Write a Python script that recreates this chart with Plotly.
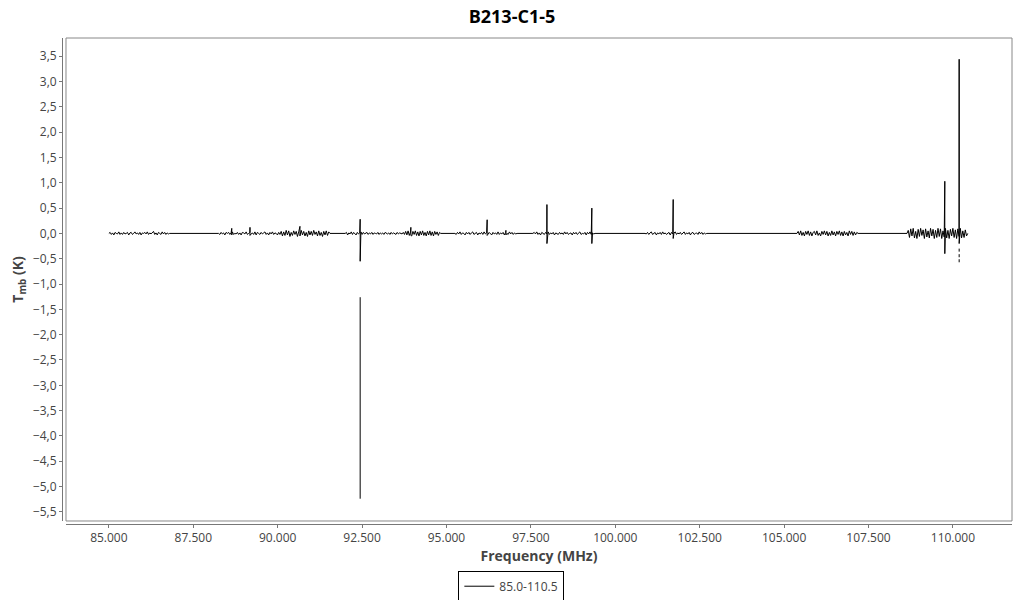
import numpy as np
import plotly.graph_objects as go

# spectral windows (MHz) and baseline noise (K)
win_start = [85000, 88250, 92000, 95250, 97560, 100880, 105380, 108640]
win_end = [86800, 91550, 94830, 97090, 99400, 102710, 107190, 110440]

noise_1 = [0.0, 0.02, -0.02, 0.01, -0.03, 0.02, 0.0, -0.01, 0.03, -0.02, 0.01, -0.02, 0.02, -0.01, 0.0, 0.02, -0.03,
           0.01, 0.02, -0.02, 0.0, 0.03, -0.01, 0.01, -0.02, 0.02, -0.03, 0.01, 0.0, 0.02, -0.01, 0.03, -0.02, 0.01,
           -0.01, 0.02, 0.04, -0.02, 0.01, -0.03, 0.02, 0.0, -0.02, 0.03, -0.01, 0.02, -0.02, 0.01, -0.01, 0.0]
noise_2 = [0.0, -0.02, 0.02, -0.01, 0.01, -0.03, 0.02, 0.0, 0.02, -0.02, 0.01, 0.03, -0.02, 0.0, -0.01, 0.02, -0.02,
           0.01, -0.03, 0.02, 0.01, -0.01, 0.03, -0.02, 0.0, 0.02, -0.01, 0.01, -0.02, 0.03, -0.03, 0.02, 0.0, -0.02,
           0.02, -0.01, 0.01, 0.03, -0.02, 0.01, -0.03, 0.02, -0.01, 0.03, -0.02, 0.01, 0.0, -0.03, 0.02, -0.02,
           0.04, -0.05, 0.03, -0.04, 0.06, -0.03, 0.05, -0.06, 0.02, -0.04, 0.05, -0.02, 0.04, -0.06, 0.03, -0.05,
           0.06, -0.03, 0.04, -0.05, 0.02, -0.06, 0.05, -0.03, 0.04, -0.04, 0.06, -0.02, 0.03, -0.05, 0.05, -0.04,
           0.02, -0.06, 0.04, -0.03, 0.05, -0.04, 0.03, 0.0]
noise_3 = [0.0, 0.02, -0.03, 0.01, -0.01, 0.03, -0.02, 0.02, 0.0, -0.03, 0.02, -0.01, 0.01, 0.03, -0.02, 0.02,
           -0.01, 0.0, 0.02, -0.02, 0.01, -0.01, 0.02, -0.02, 0.01, 0.0, -0.01, 0.02, -0.02, 0.01, -0.01, 0.01,
           -0.02, 0.02, 0.0, -0.01, 0.01, -0.02, 0.02, -0.01, 0.01, 0.0, -0.02, 0.02, -0.01, 0.01, 0.0, -0.01,
           0.02, -0.02, 0.04, -0.03, 0.05, -0.04, 0.03, -0.05, 0.04, -0.02, 0.05, -0.04, 0.03, -0.05, 0.04, -0.03,
           0.05, -0.04, 0.02, -0.05, 0.04, -0.03, 0.05, -0.04, 0.03, -0.05, 0.04, -0.02, 0.03, -0.04, 0.02, 0.0]
noise_4 = [0.0, -0.02, 0.02, -0.01, 0.03, -0.02, 0.01, 0.0, -0.03, 0.02, -0.01, 0.02, -0.02, 0.01, 0.03, -0.02,
           0.0, 0.02, -0.03, 0.01, -0.01, 0.02, -0.02, 0.03, -0.01, 0.01, -0.02, 0.02, 0.0, -0.03, 0.02, -0.01,
           0.01, -0.02, 0.03, -0.02, 0.01, -0.01, 0.02, -0.03, 0.02, 0.0, -0.02, 0.03, -0.01, 0.02, -0.02, 0.01,
           -0.01, 0.0]
noise_5 = [0.0, 0.02, -0.01, 0.03, -0.02, 0.01, -0.03, 0.02, 0.0, -0.02, 0.02, -0.01, 0.03, -0.02, 0.01, -0.01,
           0.02, -0.03, 0.01, 0.0, -0.02, 0.02, -0.01, 0.01, -0.02, 0.03, -0.01, 0.02, -0.02, 0.0, 0.01, -0.03,
           0.02, -0.01, 0.02, -0.02, 0.01, 0.03, -0.02, 0.0, -0.01, 0.02, -0.03, 0.02, -0.01, 0.03, -0.02, 0.01,
           -0.01, 0.0]
noise_6 = [0.0, -0.01, 0.02, -0.02, 0.01, 0.03, -0.02, 0.0, 0.02, -0.03, 0.01, -0.01, 0.02, -0.02, 0.03, -0.01,
           0.01, -0.02, 0.0, 0.02, -0.03, 0.02, -0.01, 0.01, 0.03, -0.02, 0.01, -0.01, 0.02, -0.02, 0.0, 0.03,
           -0.02, 0.01, -0.01, 0.02, -0.03, 0.01, 0.02, -0.02, 0.0, 0.01, -0.02, 0.03, -0.01, 0.02, -0.02, 0.01,
           -0.01, 0.0]
noise_7 = [0.0, 0.04, -0.03, 0.05, -0.04, 0.02, -0.05, 0.04, -0.02, 0.05, -0.04, 0.03, -0.05, 0.02, 0.04,
           -0.03, 0.05, -0.04, 0.01, -0.05, 0.04, -0.02, 0.05, -0.03, 0.04, -0.05, 0.02, -0.04, 0.05, -0.03, 0.03,
           -0.05, 0.04, -0.02, 0.05, -0.04, 0.03, -0.05, 0.04, -0.03, 0.02, -0.05, 0.05, -0.02, 0.04, -0.04, 0.03,
           -0.03, 0.02, 0.0]
noise_8 = [0.0, 0.06, -0.08, 0.09, -0.05, 0.1, -0.09, 0.04, -0.1, 0.08, -0.06, 0.1, -0.04, 0.07, -0.1, 0.09,
           -0.07, 0.05, -0.09, 0.1, -0.05, 0.08, -0.1, 0.06, -0.08, 0.1, -0.06, 0.09, -0.1, 0.05, -0.07, 0.1,
           -0.09, 0.06, -0.1, 0.08, -0.05, 0.1, -0.08, 0.07, -0.1, 0.09, -0.06, 0.1, -0.09, 0.05, -0.08, 0.07,
           -0.05, 0.0]
win_noise = [noise_1, noise_2, noise_3, noise_4, noise_5, noise_6, noise_7, noise_8]

# lines (MHz) with peak and trough (K)
line_freq = [88640, 89180, 90660, 92443, 93945, 96205, 96760, 97975, 99305, 101715, 109760, 110185]
line_top = [0.1, 0.12, 0.14, 0.28, 0.12, 0.27, 0.06, 0.57, 0.5, 0.67, 1.03, 3.44]
line_bottom = [-0.03, -0.04, -0.05, -0.55, -0.04, -0.04, -0.03, -0.2, -0.2, -0.1, -0.4, -0.2]

# detached pieces of the spectrum (blanked channels in between)
piece_freq = [92443, 110185, 110185, 110185]
piece_hi = [-1.26, -0.3, -0.41, -0.51]
piece_lo = [-5.24, -0.36, -0.47, -0.57]

x, y = [], []
for f0, f1, vals in zip(win_start, win_end, win_noise):
    pts = list(zip(np.linspace(f0, f1, len(vals)), vals))
    for f, a, b in zip(line_freq, line_top, line_bottom):
        if f0 <= f <= f1:
            pts += [(f, a), (f, b)]
    pts.sort(key=lambda p: p[0])
    x += [p[0] for p in pts]
    y += [p[1] for p in pts]
for f, a, b in zip(piece_freq, piece_hi, piece_lo):
    x += [None, f, f]
    y += [None, a, b]

fig = go.Figure(go.Scatter(x=x, y=y, mode='lines', name='85.0-110.5',
                           line=dict(color='black', width=1), connectgaps=False))

# the page has an 8px body margin, so the figure is shifted by 8px
fig.update_layout(
    title=dict(text='<b>B213-C1-5</b>', x=0.5, xanchor='center', y=0.986, yanchor='middle',
               font=dict(size=18, color='black', family='Open Sans')),
    width=1008, height=600,
    margin=dict(l=54, r=4, t=30, b=84, autoexpand=False),
    paper_bgcolor='white', plot_bgcolor='white',
    font=dict(family='Open Sans', size=12, color='#444'),
    separators=',.',
    showlegend=True,
    legend=dict(orientation='h', x=0.473, xanchor='center', y=-0.128, yanchor='middle',
                bordercolor='black', borderwidth=1, itemwidth=30, font=dict(size=12, color='#444')),
    xaxis=dict(domain=[0.0042, 1], anchor='free', position=0, range=[83730, 111750], automargin=False,
               tick0=85000, dtick=2500, tickformat=',.0f', showgrid=False, zeroline=False,
               showline=True, linecolor='#777', linewidth=1, ticks='outside', ticklen=3, tickcolor='#777',
               title=dict(text='<b>Frequency (MHz)</b>', font=dict(size=14, color='#444'), standoff=3)),
    yaxis=dict(domain=[0.0062, 1], anchor='free', position=0, range=[-5.68, 3.86], automargin=False,
               tick0=0, dtick=0.5, tickformat='.1f', showgrid=False, zeroline=False,
               showline=True, linecolor='#777', linewidth=1, ticks='outside', ticklen=3, tickcolor='#777',
               title=dict(text='<b>T<sub>mb</sub> (K)</b>', font=dict(size=14, color='#444'), standoff=4)),
)
fig.add_shape(type='rect', xref='x domain', yref='y domain', x0=0, x1=1, y0=0, y1=1,
              line=dict(color='#888', width=1), layer='below')

fig.write_html('out.html')
